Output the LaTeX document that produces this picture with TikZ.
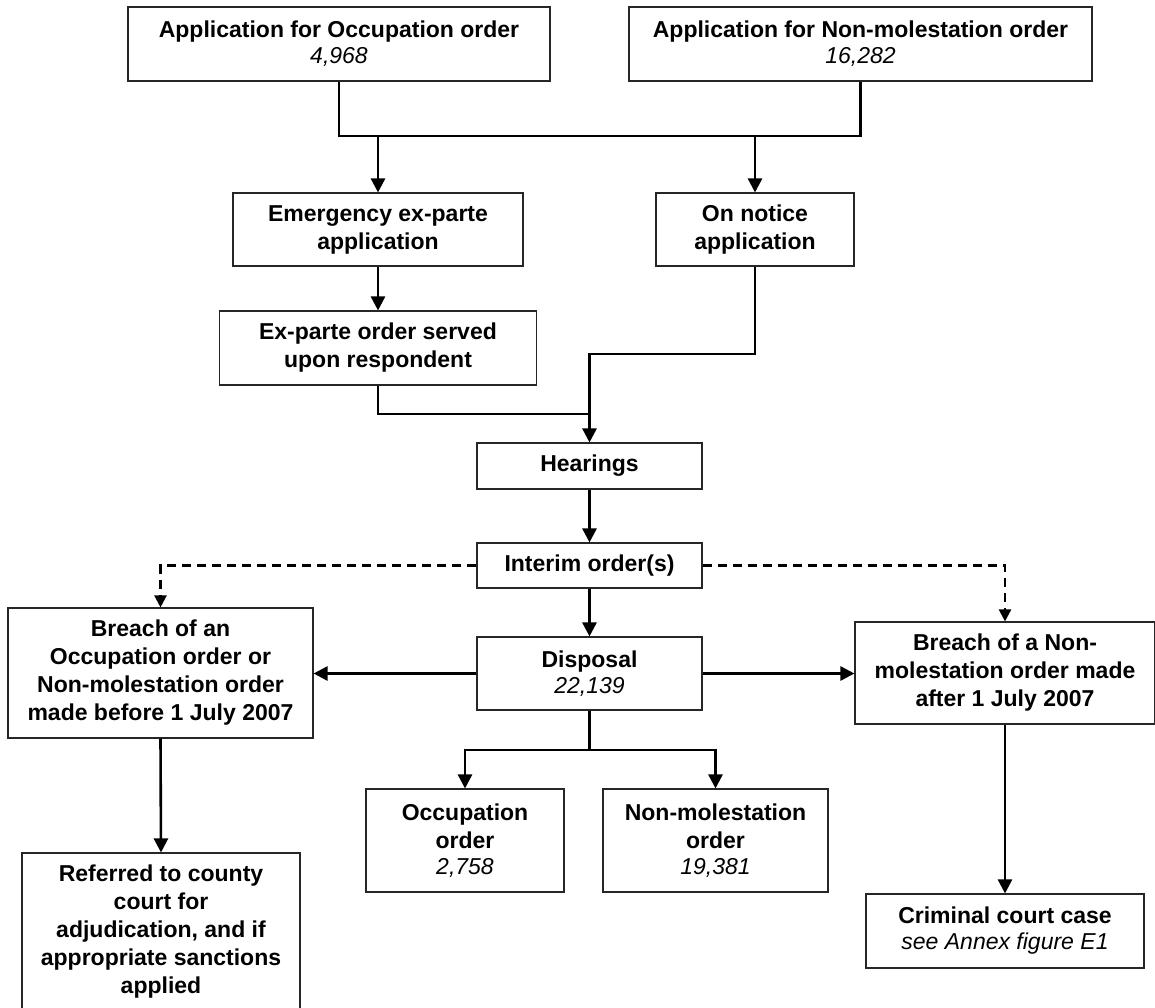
\documentclass[tikz,border=0pt]{standalone}
\usepackage{fontspec}
\setmainfont{Liberation Sans}
\usetikzlibrary{arrows.meta}
\tikzset{
  box/.style={draw=black!85, line width=1.1pt, rectangle, align=center, inner sep=0pt,
    font=\bfseries\fontsize{23}{28}\selectfont},
  conn/.style={line width=2.6pt, line join=miter},
  arr/.style={conn, -{Triangle[length=14pt,width=14pt]}},
  darr/.style={line width=2.2pt, dash pattern=on 9pt off 6pt, -{Triangle[length=12pt,width=12pt]}},
}
\newcommand{\num}[1]{\\[-2pt]{\mdseries\itshape #1}}
\begin{document}
\begin{tikzpicture}[x=1pt,y=-1pt]
\useasboundingbox (0,0) rectangle (1155,1007);

% boxes (centre, width, height)
\node[box, minimum width=422pt, minimum height=74pt] (appOcc) at (339,44)
  {Application for Occupation order\num{4,968}};
\node[box, minimum width=463pt, minimum height=74pt] (appNon) at (860.5,44)
  {Application for Non-molestation order\num{16,282}};
\node[box, minimum width=290pt, minimum height=73pt] (emerg) at (378,229.5)
  {Emergency ex-parte\\application};
\node[box, minimum width=198pt, minimum height=73pt] (notice) at (755,229.5)
  {On notice\\application};
\node[box, minimum width=317pt, minimum height=74pt] (exparte) at (378,348)
  {Ex-parte order served\\upon respondent};
\node[box, minimum width=225pt, minimum height=46pt] (hear) at (589.5,466)
  {Hearings};
\node[box, minimum width=225pt, minimum height=45pt] (interim) at (589.5,565.5)
  {Interim order(s)};
\node[box, minimum width=225pt, minimum height=73pt] (disp) at (589.5,673.5)
  {Disposal\num{22,139}};
\node[box, minimum width=305pt, minimum height=130pt] (breachL) at (160.5,673)
  {Breach of an\\Occupation order or\\Non-molestation order\\made before 1 July 2007};
\node[box, minimum width=300pt, minimum height=102pt] (breachR) at (1005,673)
  {Breach of a Non-\\molestation order made\\after 1 July 2007};
\node[box, minimum width=198pt, minimum height=103pt] (occ) at (465,840.5)
  {Occupation\\order\num{2,758}};
\node[box, minimum width=225pt, minimum height=103pt] (nonmol) at (715.5,840.5)
  {Non-molestation\\order\num{19,381}};
\node[box, minimum width=278pt, minimum height=157pt] (referred) at (161,931.5)
  {Referred to county\\court for\\adjudication, and if\\appropriate sanctions\\applied};
\node[box, minimum width=278pt, minimum height=74pt] (criminal) at (1005,931)
  {Criminal court case\\[-2pt]{\mdseries\itshape see Annex figure E1}};

% junction points
\coordinate (split) at (0,136);
\coordinate (m1) at (589.5,354);
\coordinate (m2) at (589.5,414);
\coordinate (s2) at (589.5,750);

% applications to the two routes
\draw[conn] (appOcc.south) |- (split -| appNon.south) -- (appNon.south);
\draw[arr] (split -| emerg.north) -- (emerg.north);
\draw[arr] (split -| notice.north) -- (notice.north);

% routes to hearings
\draw[arr] (emerg.south) -- (emerg.south |- exparte.north);
\draw[arr] (notice.south) |- (m1) -- (hear.north);
\draw[conn] (exparte.south) |- (m2);

% hearings to disposal
\draw[arr] (hear.south) -- (interim.north);
\draw[arr] (interim.south) -- (disp.north);

% interim orders may be breached
\draw[darr] (interim.west) -| (breachL.north);
\draw[darr] (interim.east) -| (breachR.north);

% disposal outcomes
\draw[arr] (disp.west) -- (disp.west -| breachL.east);
\draw[arr] (disp.east) -- (disp.east -| breachR.west);
\draw[conn] (disp.south) -- (s2);
\draw[arr] (s2) -| (occ.north);
\draw[arr] (s2) -| (nonmol.north);

% consequences of a breach
\draw[arr] (breachL.south) -- (referred.north);
\draw[arr] (breachR.south) -- (criminal.north);
\end{tikzpicture}
\end{document}
